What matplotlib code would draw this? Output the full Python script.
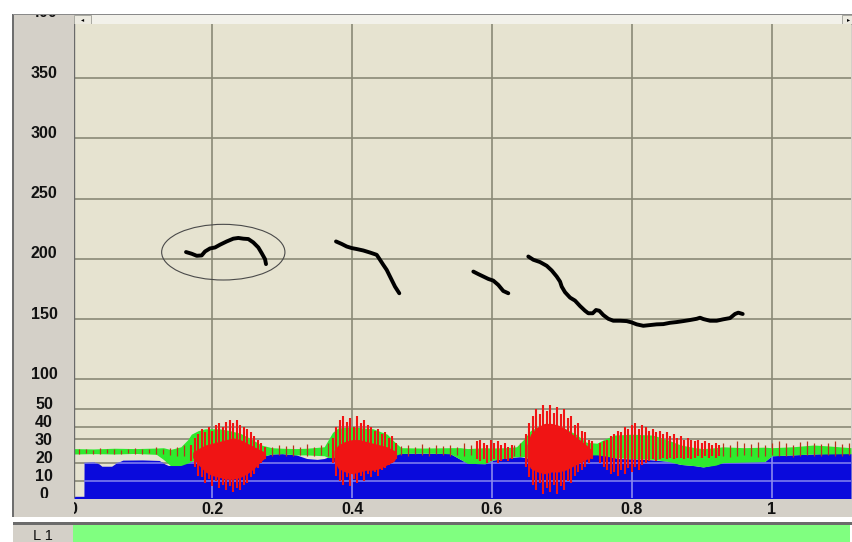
import matplotlib
matplotlib.use("Agg")
import matplotlib.pyplot as plt
from matplotlib.patches import Rectangle, Ellipse
from matplotlib import transforms as mtransforms

W, H = 853, 542

# ---------------- pitch track (time in s, F0 in Hz), one list per voiced stretch
pitch_t1 = [0.1624, 0.1705, 0.1777, 0.1848, 0.1896, 0.1967, 0.2039, 0.2110, 0.2206,
            0.2300, 0.2372, 0.2443, 0.2515, 0.2586, 0.2658, 0.2706, 0.2754, 0.2768]
pitch_f1 = [205.6, 204.2, 202.5, 202.8, 206.1, 208.6, 209.4, 211.7, 214.4,
            216.7, 217.3, 216.7, 216.4, 213.6, 209.4, 204.7, 199.7, 195.6]

pitch_t2 = [0.3769, 0.3851, 0.3922, 0.3994, 0.4065, 0.4159, 0.4255, 0.4351, 0.4398,
            0.4445, 0.4494, 0.4541, 0.4613, 0.4674]
pitch_f2 = [214.4, 212.3, 210.2, 208.9, 208.1, 206.9, 205.2, 203.3, 199.2,
            195.0, 190.8, 185.3, 176.9, 171.4]

pitch_t3 = [0.5733, 0.5804, 0.5876, 0.5947, 0.6018, 0.6090, 0.6161, 0.6233]
pitch_f3 = [189.4, 187.3, 185.3, 183.3, 181.9, 178.3, 173.3, 171.4]

pitch_t4 = [0.6519, 0.6591, 0.6686, 0.6782, 0.6854, 0.6925, 0.6973, 0.6997, 0.7044,
            0.7116, 0.7187, 0.7259, 0.7330, 0.7377, 0.7440, 0.7487, 0.7534, 0.7592,
            0.7663, 0.7735, 0.7831, 0.7926, 0.7998, 0.8069, 0.8164, 0.8259, 0.8355,
            0.8450, 0.8546, 0.8641, 0.8736, 0.8832, 0.8927, 0.8975, 0.9022, 0.9118,
            0.9213, 0.9308, 0.9404, 0.9475, 0.9522, 0.9585]
pitch_f4 = [201.9, 199.2, 197.3, 194.2, 190.3, 185.3, 181.1, 176.9, 172.3,
            167.8, 165.3, 160.8, 156.9, 154.8, 154.8, 157.5, 156.9, 153.3,
            150.2, 148.6, 148.6, 148.3, 147.2, 145.6, 144.4, 145.0, 145.6,
            145.8, 146.9, 147.5, 148.3, 149.2, 150.2, 151.1, 150.0, 148.6,
            148.6, 149.8, 150.8, 154.2, 155.3, 154.2]

pitch_segments = [(pitch_t1, pitch_f1), (pitch_t2, pitch_f2),
                  (pitch_t3, pitch_f3), (pitch_t4, pitch_f4)]

# highlighted stretch (centre time, centre Hz, width s, height Hz)
mark_t, mark_f, mark_w, mark_h = 0.2157, 205.5, 0.1763, 46.2

# ---------------- energy (blue)
blue_t = [0.0022, 0.0164, 0.0166, 0.030, 0.038, 0.042, 0.056, 0.062, 0.072, 0.100,
          0.124, 0.132, 0.137, 0.152, 0.158, 0.170, 0.200, 0.250, 0.270, 0.285,
          0.300, 0.320, 0.335, 0.350, 0.360, 0.370, 0.400, 0.440, 0.460, 0.500,
          0.540, 0.555, 0.565, 0.590, 0.600, 0.620, 0.640, 0.660, 0.700, 0.730,
          0.745, 0.760, 0.780, 0.820, 0.850, 0.870, 0.890, 0.902, 0.915, 0.930,
          0.960, 0.990, 1.000, 1.030, 1.060, 1.090, 1.1134]
blue_top = [1.5, 1.5, 20.2, 20.5, 19.5, 18.2, 18.2, 19.8, 21.6, 21.7,
            21.4, 19.5, 18.6, 18.6, 20.0, 21.0, 21.5, 22.0, 23.5, 25.0,
            25.2, 24.5, 22.5, 22.0, 22.5, 24.0, 23.0, 24.0, 25.3, 25.5,
            25.2, 22.0, 19.8, 19.6, 21.5, 22.8, 23.5, 22.0, 23.0, 24.5,
            25.0, 24.5, 22.5, 22.0, 21.0, 19.2, 18.5, 17.8, 18.8, 20.2,
            20.5, 20.8, 24.0, 24.5, 25.0, 25.5, 25.2]

# ---------------- spectral band (green)
green_t = [0.0022, 0.030, 0.060, 0.090, 0.120, 0.130, 0.140, 0.155, 0.165, 0.170,
           0.180, 0.190, 0.210, 0.225, 0.240, 0.255, 0.270, 0.285, 0.300, 0.320,
           0.335, 0.360, 0.366, 0.372, 0.380, 0.400, 0.430, 0.450, 0.460, 0.470,
           0.500, 0.540, 0.555, 0.565, 0.590, 0.600, 0.620, 0.635, 0.645, 0.655,
           0.665, 0.700, 0.720, 0.735, 0.750, 0.760, 0.775, 0.800, 0.830, 0.850,
           0.870, 0.890, 0.902, 0.920, 0.930, 0.960, 0.990, 1.000, 1.030, 1.060,
           1.080, 1.1134]
green_lo = [25.0, 25.2, 25.0, 25.3, 24.8, 22.0, 18.6, 18.6, 20.0, 21.0,
            22.0, 22.0, 22.0, 22.0, 22.0, 22.0, 23.5, 25.0, 25.2, 24.5,
            24.5, 24.0, 23.0, 23.0, 23.0, 23.0, 23.0, 23.0, 24.0, 25.3,
            25.5, 25.2, 22.0, 19.8, 19.6, 21.5, 22.8, 23.5, 23.5, 23.0,
            23.0, 23.0, 24.0, 24.5, 24.5, 24.0, 23.0, 22.5, 22.0, 21.0,
            19.2, 18.5, 17.8, 18.8, 20.2, 20.5, 20.8, 24.0, 24.5, 25.0,
            25.0, 25.2]
green_hi = [28.0, 27.8, 28.2, 28.0, 28.3, 28.5, 27.5, 29.0, 33.0, 36.0,
            38.0, 39.0, 39.0, 38.0, 36.5, 33.5, 30.0, 28.5, 28.2, 28.0,
            28.2, 29.0, 33.0, 37.0, 39.5, 40.0, 39.0, 36.0, 32.0, 28.5,
            28.3, 28.5, 28.5, 28.0, 28.5, 28.3, 28.5, 29.0, 33.0, 38.0,
            40.0, 40.0, 36.0, 31.5, 31.0, 33.0, 35.5, 36.0, 35.5, 33.0,
            30.0, 28.5, 28.0, 28.5, 29.0, 28.5, 28.8, 28.5, 29.0, 30.0,
            29.5, 28.5]

# ---------------- waveform (red): dense core per voiced stretch ...
body_t1 = [0.172, 0.180, 0.190, 0.200, 0.210, 0.220, 0.230, 0.240, 0.250, 0.260, 0.270, 0.276]
body_hi1 = [26, 28, 30, 31, 32, 33, 34, 33, 31, 29, 27, 26]
body_lo1 = [23, 19, 15, 13, 12, 11, 11, 12, 14, 17, 21, 23]
body_t2 = [0.374, 0.380, 0.390, 0.400, 0.410, 0.420, 0.430, 0.440, 0.450, 0.460, 0.463]
body_hi2 = [27, 30, 32, 33, 33, 32, 31, 30, 29, 27, 26]
body_lo2 = [21, 17, 15, 14, 15, 16, 16, 17, 19, 21, 23]
body_t4 = [0.650, 0.655, 0.665, 0.675, 0.685, 0.695, 0.705, 0.715, 0.725, 0.735, 0.743]
body_hi4 = [30, 36, 40, 42, 42, 41, 39, 36, 33, 30, 27]
body_lo4 = [21, 17, 15, 14, 15, 15, 16, 18, 20, 22, 23]

# ... and the individual period peaks
spike_t = [0.170, 0.175, 0.180, 0.185, 0.190, 0.195, 0.200, 0.205, 0.210, 0.215, 0.220,
           0.225, 0.230, 0.235, 0.240, 0.245, 0.250, 0.255, 0.260, 0.265, 0.270, 0.275,
           0.372, 0.377, 0.382, 0.387, 0.392, 0.397, 0.402, 0.407, 0.412, 0.417, 0.422,
           0.427, 0.432, 0.437, 0.442, 0.447, 0.452, 0.457, 0.462,
           0.578, 0.583, 0.588, 0.593, 0.598, 0.603, 0.608, 0.613, 0.618, 0.623, 0.628,
           0.648, 0.653, 0.658, 0.663, 0.668, 0.673, 0.678, 0.683, 0.688, 0.693, 0.698,
           0.703, 0.708, 0.713, 0.718, 0.723, 0.728, 0.733, 0.738, 0.743,
           0.755, 0.760, 0.765, 0.770, 0.775, 0.780, 0.785, 0.790, 0.795, 0.800, 0.805,
           0.810, 0.815, 0.820, 0.825, 0.830, 0.835, 0.840, 0.845, 0.850, 0.855, 0.860,
           0.865, 0.870, 0.875, 0.880, 0.885, 0.890, 0.895, 0.900, 0.905, 0.910, 0.915,
           0.920, 0.925]
spike_hi = [30, 34, 36, 39, 37, 40, 38, 41, 42, 40, 43,
            44, 42, 44, 41, 40, 39, 37, 35, 33, 31, 29,
            34, 40, 44, 46, 43, 45, 40, 46, 42, 44, 41,
            40, 38, 39, 36, 37, 34, 35, 31,
            32, 33, 31, 30, 33, 31, 32, 30, 31, 29, 30,
            36, 42, 46, 50, 47, 52, 49, 52, 48, 51, 47,
            50, 45, 46, 41, 42, 38, 37, 33, 32,
            31, 32, 33, 35, 36, 38, 37, 40, 39, 41, 42,
            39, 41, 40, 38, 39, 37, 38, 36, 37, 35, 36,
            34, 35, 33, 34, 33, 32, 33, 31, 32, 31, 30,
            31, 30]
spike_lo = [21, 18, 13, 12, 9, 11, 7, 10, 6, 8, 5,
            7, 4, 6, 5, 8, 9, 12, 14, 17, 20, 22,
            20, 13, 10, 8, 12, 7, 11, 9, 13, 10, 14,
            12, 15, 13, 16, 17, 19, 20, 22,
            22, 21, 22, 20, 21, 22, 20, 21, 22, 21, 22,
            18, 12, 8, 5, 9, 3, 6, 4, 8, 3, 7,
            5, 10, 9, 13, 15, 16, 18, 20, 22,
            20, 18, 16, 14, 15, 13, 16, 14, 17, 15, 18,
            16, 19, 20, 21, 22, 21, 22, 23, 22, 23, 22,
            23, 23, 22, 23, 22, 23, 24, 23, 24, 23, 24,
            23, 24]

# low-level ripple in the unvoiced stretches
noise_t = [0.010, 0.020, 0.030, 0.040, 0.050, 0.060, 0.070, 0.080, 0.090, 0.100,
           0.110, 0.120, 0.130, 0.140, 0.150, 0.160,
           0.285, 0.295, 0.305, 0.315, 0.325, 0.335, 0.345, 0.355, 0.365,
           0.470, 0.480, 0.490, 0.500, 0.510, 0.520, 0.530, 0.540, 0.550, 0.560, 0.570,
           0.632, 0.640,
           0.930, 0.940, 0.950, 0.960, 0.970, 0.980, 0.990, 1.000, 1.010, 1.020,
           1.030, 1.040, 1.050, 1.060, 1.070, 1.080, 1.090, 1.100, 1.110]
noise_hi = [27.5, 28, 27, 28.5, 27.5, 28, 27, 28, 28.5, 27.5,
            28, 29, 28, 28.5, 29, 30,
            29, 30, 29.5, 30, 29, 30.5, 29, 30, 31,
            29.5, 30, 29, 30.5, 29, 30, 29.5, 30, 29, 31, 30,
            30, 31,
            31, 30, 32, 31, 30.5, 31.5, 30, 31, 32, 31,
            30, 31.5, 32, 31, 30.5, 31, 32, 30.5, 31]
noise_lo = [25, 25.5, 25, 25, 25.5, 25, 25, 25.5, 25, 25,
            25.5, 25, 25, 24.5, 24, 24,
            24, 24.5, 24, 24, 24.5, 24, 24, 24.5, 24,
            24.5, 24, 25, 24.5, 24, 25, 24.5, 24, 24.5, 24, 24.5,
            24, 24,
            24, 23.5, 24, 24.5, 24, 23.5, 24, 24.5, 24, 24,
            23.5, 24, 24.5, 24, 24, 24.5, 24, 24, 24.5]

x_ticks = [0, 0.2, 0.4, 0.6, 0.8, 1]
x_ticklabels = ["0", "0.2", "0.4", "0.6", "0.8", "1"]
pitch_ticks = [100, 150, 200, 250, 300, 350, 400]
amp_ticks = [0, 10, 20, 30, 40, 50]
amp_grid = [10, 20, 33.3, 40, 50]

# ---------------- colours
PANEL = "#D4D0C8"
PLOT_BG = "#E6E3D0"
GRID = "#8A8A76"
BLUE = "#0A0ADC"
GREEN = "#2EEA2E"
RED = "#F01414"
RIPPLE = "#B8321A"

fig = plt.figure(figsize=(W / 100, H / 100), dpi=100)
fig.patch.set_facecolor("white")


def box(x0, y0, x1, y1, z=0, **kw):
    r = Rectangle((x0 / W, 1 - y1 / H), (x1 - x0) / W, (y1 - y0) / H,
                  transform=fig.transFigure, zorder=z, **kw)
    fig.add_artist(r)
    return r


# window frame
box(13, 14, 853, 517, z=0, facecolor=PANEL, edgecolor="none")
box(12.5, 14, 14, 517, z=0.2, facecolor="#6E6E6E", edgecolor="none")
box(74, 15, 851, 24.5, z=0.2, facecolor="#F2F1EA", edgecolor="none")
box(74, 23.8, 851, 25, z=0.3, facecolor="#9A9A90", edgecolor="none")
box(74.5, 15.5, 91.5, 23.5, z=0.4, facecolor="#ECEAE0", edgecolor="#A8A8A0", linewidth=0.7)
box(842, 15.5, 853, 23.5, z=0.4, facecolor="#ECEAE0", edgecolor="#A8A8A0", linewidth=0.7)
fig.text(83 / W, 1 - 19.5 / H, "\u25C2", fontsize=4.5, ha="center", va="center", zorder=0.5)
fig.text(849 / W, 1 - 19.5 / H, "\u25B8", fontsize=4.5, ha="center", va="center", zorder=0.5)
box(13, 517, 853, 521.5, z=0.2, facecolor="white", edgecolor="none")
box(13, 521.5, 853, 525, z=0.2, facecolor="#6B6B6B", edgecolor="none")
box(13, 525, 73, 542, z=0.2, facecolor=PANEL, edgecolor="none")
box(73, 525, 850, 542, z=0.2, facecolor="#80FF80", edgecolor="none")
fig.text(43 / W, 1 - 536 / H, "L 1", fontsize=10.5, family="Liberation Sans",
         ha="center", va="center", color="#111111", zorder=1)

# plot areas: pitch (top) and amplitude (bottom)
ax1 = fig.add_axes([74 / W, 1 - 380 / H, 777 / W, 356 / H])
ax2 = fig.add_axes([74 / W, 1 - 498.3 / H, 777 / W, 118.3 / H])
xlim = (0.0022, 1.1134)
for ax in (ax1, ax2):
    ax.set_zorder(1)
    ax.set_facecolor(PLOT_BG)
    ax.set_xlim(*xlim)
    ax.set_xticks([])
    ax.set_yticks([])
    for s in ax.spines.values():
        s.set_visible(False)
    for v in x_ticks[1:]:
        ax.axvline(v, color=GRID, lw=1.2, zorder=0.5)
    ax.axvline(xlim[0], color="#6A6A6A", lw=1.0, zorder=5)

ax1.set_ylim(99.42, 394.85)
ax2.set_ylim(0.39, 66.1)

for v in pitch_ticks:
    ax1.axhline(v, color=GRID, lw=1.2, zorder=0.5)
for v in amp_grid:
    ax2.axhline(v, color=GRID, lw=1.2, zorder=0.5)

# pitch contours
for t, f in pitch_segments:
    ax1.plot(t, f, color="black", lw=2.8, solid_capstyle="round",
             solid_joinstyle="round", zorder=3)
ax1.add_patch(Ellipse((mark_t, mark_f), mark_w, mark_h, fill=False,
                      edgecolor="#4A4A4A", lw=0.8, zorder=3))

# energy area with the grid showing through it
blue_poly = ax2.fill_between(blue_t, 0, blue_top, color=BLUE, lw=0, zorder=1)
clip = blue_poly.get_paths()[0]
for v in amp_grid:
    ln = ax2.axhline(v, color="#7C7CEE", lw=1.2, zorder=1.2)
    ln.set_clip_path(clip, ax2.transData)
for v in x_ticks[1:]:
    ln = ax2.axvline(v, color="#8A8AEE", lw=1.2, zorder=1.2)
    ln.set_clip_path(clip, ax2.transData)

ax2.fill_between(green_t, green_lo, green_hi, color=GREEN, lw=0, zorder=1.5)
ax2.vlines(noise_t, noise_lo, noise_hi, color=RIPPLE, lw=0.9, zorder=1.7)
for bt, bh, bl in [(body_t1, body_hi1, body_lo1), (body_t2, body_hi2, body_lo2),
                   (body_t4, body_hi4, body_lo4)]:
    ax2.fill_between(bt, bl, bh, color=RED, lw=0, zorder=1.8)
ax2.vlines(spike_t, spike_lo, spike_hi, color=RED, lw=1.5, zorder=1.9)

# axis labels in the side panel
lab_font = dict(family="Liberation Sans", weight="bold", fontsize=11.5,
                color="#111111", ha="center", va="center")
t1 = mtransforms.offset_copy(
    mtransforms.blended_transform_factory(fig.transFigure, ax1.transData),
    fig=fig, y=5, units="dots")
for v in pitch_ticks:
    fig.text(44 / W, v, str(v), transform=t1, zorder=3, **lab_font)
t2 = mtransforms.offset_copy(
    mtransforms.blended_transform_factory(fig.transFigure, ax2.transData),
    fig=fig, y=4.5, units="dots")
for v in amp_ticks:
    fig.text(44 / W, v, str(v), transform=t2, zorder=3, **lab_font)
t3 = mtransforms.blended_transform_factory(ax2.transData, fig.transFigure)
for v, s in zip(x_ticks, x_ticklabels):
    fig.text(v, 1 - 509 / H, s, transform=t3, zorder=3, **lab_font)

# panel edges that cover overflowing labels
box(0, 0, 853, 13.6, z=4, facecolor="white", edgecolor="none")
box(13, 13.6, 853, 15, z=4.2, facecolor="#8A8A8A", edgecolor="none")
box(13, 498.3, 73.6, 517, z=4, facecolor=PANEL, edgecolor="none")
box(12.5, 498.3, 14, 517, z=4.2, facecolor="#6E6E6E", edgecolor="none")

fig.savefig("out.png", dpi=100)
